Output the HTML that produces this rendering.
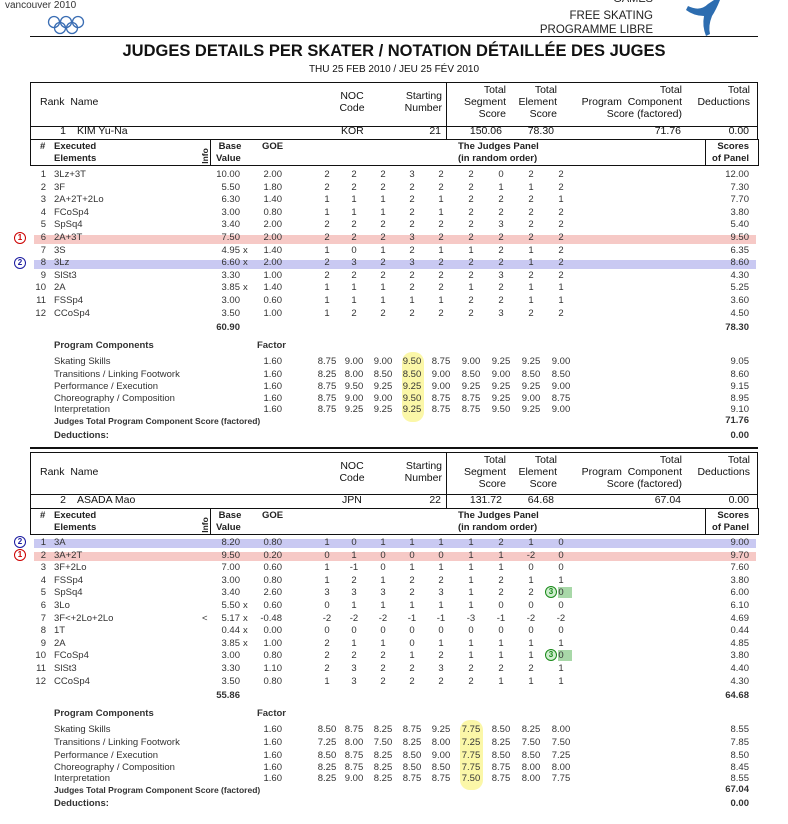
<!DOCTYPE html>
<html><head><meta charset="utf-8"><style>
body{margin:0;background:#fff;width:788px;height:824px;position:relative;overflow:hidden;font-family:"Liberation Sans",Arial,sans-serif;color:#222}
.a{position:absolute;white-space:nowrap}
.row{position:absolute;left:0;width:788px;height:12px;font-size:9.5px;line-height:12px;color:#333}
.row span{position:absolute;top:0;white-space:nowrap}
.n{left:26px;width:20px;text-align:right}
.e{left:54px}
.b{left:196px;width:44px;text-align:right}
.x{left:243px}
.g{left:246px;width:36px;text-align:right}
.f{left:262px;width:20px;text-align:right}
.j1{left:317px;width:20px;text-align:center}
.j2{left:344px;width:20px;text-align:center}
.j3{left:373px;width:20px;text-align:center}
.j4{left:402px;width:20px;text-align:center}
.j5{left:431px;width:20px;text-align:center}
.j6{left:461px;width:20px;text-align:center}
.j7{left:491px;width:20px;text-align:center}
.j8{left:521px;width:20px;text-align:center}
.j9{left:551px;width:20px;text-align:center}
.s{left:690px;width:59px;text-align:right}
.hl{position:absolute;left:34px;width:722px;height:9px}
.box{position:absolute;border:1px solid #111}
.h{position:absolute;font-size:10.5px;line-height:12px;white-space:nowrap;color:#111}
.hr{text-align:right}
.eh{position:absolute;font-size:9.5px;font-weight:bold;line-height:12px;color:#222;white-space:nowrap}
.circ{position:absolute;width:10px;height:10px;border-radius:50%;border:1.5px solid;font-size:8px;line-height:10px;text-align:center;font-weight:bold}
.yel{position:absolute;background:#fbf7a8;border-radius:10px}
.bold{font-weight:bold}
</style></head><body>

<!-- top header -->
<div class="a" style="left:5px;top:0px;font-size:10px;color:#333">vancouver 2010</div>
<svg class="a" style="left:46px;top:15px" width="42" height="22">
<g fill="none" stroke="#3a6db3" stroke-width="1.3">
<circle cx="8" cy="7" r="5.5"/><circle cx="20" cy="7" r="5.5"/><circle cx="32" cy="7" r="5.5"/>
<circle cx="14" cy="13" r="5.5"/><circle cx="26" cy="13" r="5.5"/></g></svg>
<div class="a" style="right:135px;top:-7px;font-size:11px;color:#222">GAMES</div>
<div class="a" style="right:135px;top:10px;font-size:11.5px;color:#222">FREE SKATING</div>
<div class="a" style="right:135px;top:24px;font-size:11.5px;color:#222">PROGRAMME LIBRE</div>
<svg class="a" style="left:680px;top:0" width="60" height="38"><path d="M8 6 Q20 12 28 4 L34 0 L40 0 Q36 10 32 16 Q28 26 30 34 L26 36 Q22 26 24 16 Q14 16 6 10 Z" fill="#2d6db0"/></svg>
<div class="a" style="left:30px;top:36px;width:728px;height:1px;background:#111"></div>
<div class="a" style="left:0;width:788px;top:42px;text-align:center;font-size:16.5px;font-weight:bold;color:#111">JUDGES DETAILS PER SKATER / NOTATION DÉTAILLÉE DES JUGES</div>
<div class="a" style="left:0;width:788px;top:64px;text-align:center;font-size:10px;color:#111">THU 25 FEB 2010 / JEU 25 FÉV 2010</div>

<!-- SKATER 1 header -->
<div class="box" style="left:30px;top:82px;width:727px;height:43px;border-left:1px solid #111;border-right:none;border-bottom:1px solid #111"></div>
<div class="a" style="left:757px;top:82px;width:1px;height:57px;background:#111"></div>
<div class="a" style="left:30px;top:82px;width:1px;height:57px;background:#111"></div>
<div class="a" style="left:446px;top:82px;width:1px;height:57px;background:#111"></div>
<div class="h" style="left:40px;top:96px">Rank&nbsp; Name</div>
<div class="h" style="left:330px;top:90px;width:44px;text-align:center">NOC<br>Code</div>
<div class="h hr" style="left:390px;top:90px;width:52px">Starting<br>Number</div>
<div class="h hr" style="left:450px;top:84px;width:56px">Total<br>Segment<br>Score</div>
<div class="h hr" style="left:510px;top:84px;width:47px">Total<br>Element<br>Score</div>
<div class="h hr" style="left:560px;top:84px;width:122px">Total<br>Program&nbsp; Component<br>Score (factored)</div>
<div class="h hr" style="left:690px;top:84px;width:60px">Total<br>Deductions</div>
<div class="h" style="left:30px;top:125px;width:36px;text-align:right">1</div>
<div class="h" style="left:77px;top:125px">KIM Yu-Na</div>
<div class="h" style="left:341px;top:125px">KOR</div>
<div class="h hr" style="left:400px;top:125px;width:41px">21</div>
<div class="h hr" style="left:450px;top:125px;width:52px">150.06</div>
<div class="h hr" style="left:510px;top:125px;width:44px">78.30</div>
<div class="h hr" style="left:600px;top:125px;width:81px">71.76</div>
<div class="h hr" style="left:700px;top:125px;width:49px">0.00</div>
<!-- elements header 1 -->
<div class="box" style="left:30px;top:139px;width:727px;height:25px;border-top:1.5px solid #111"></div>
<div class="a" style="left:210px;top:140px;width:1px;height:25px;background:#111"></div>
<div class="a" style="left:705px;top:140px;width:1px;height:25px;background:#111"></div>
<div class="eh" style="left:40px;top:141px">#</div>
<div class="eh" style="left:54px;top:141px">Executed<br>Elements</div>
<div class="eh" style="left:197px;top:150px;transform:rotate(-90deg);font-size:8.5px">Info</div>
<div class="eh" style="left:216px;top:141px">&nbsp;Base<br>Value</div>
<div class="eh" style="left:262px;top:141px">GOE</div>
<div class="eh" style="left:458px;top:141px">The Judges Panel<br>(in random order)</div>
<div class="eh" style="left:710px;top:141px;width:39px;text-align:right">Scores<br>of Panel</div>

<!-- highlights skater 1 -->
<div class="hl" style="top:235px;background:#f6c9c6"></div>
<div class="hl" style="top:260px;background:#c9c9f2"></div>
<div class="circ" style="left:14px;top:232px;border-color:#c00;color:#c00">1</div>
<div class="circ" style="left:14px;top:257px;border-color:#1a1aa0;color:#1a1aa0">2</div>

<div class="row" style="top:169px"><span class="n">1</span><span class="e">3Lz+3T</span><span class="b">10.00</span><span class="g">2.00</span><span class="j1">2</span><span class="j2">2</span><span class="j3">2</span><span class="j4">3</span><span class="j5">2</span><span class="j6">2</span><span class="j7">0</span><span class="j8">2</span><span class="j9">2</span><span class="s">12.00</span></div>
<div class="row" style="top:181.6px"><span class="n">2</span><span class="e">3F</span><span class="b">5.50</span><span class="g">1.80</span><span class="j1">2</span><span class="j2">2</span><span class="j3">2</span><span class="j4">2</span><span class="j5">2</span><span class="j6">2</span><span class="j7">1</span><span class="j8">1</span><span class="j9">2</span><span class="s">7.30</span></div>
<div class="row" style="top:194.2px"><span class="n">3</span><span class="e">2A+2T+2Lo</span><span class="b">6.30</span><span class="g">1.40</span><span class="j1">1</span><span class="j2">1</span><span class="j3">1</span><span class="j4">2</span><span class="j5">1</span><span class="j6">2</span><span class="j7">2</span><span class="j8">2</span><span class="j9">1</span><span class="s">7.70</span></div>
<div class="row" style="top:206.8px"><span class="n">4</span><span class="e">FCoSp4</span><span class="b">3.00</span><span class="g">0.80</span><span class="j1">1</span><span class="j2">1</span><span class="j3">1</span><span class="j4">2</span><span class="j5">1</span><span class="j6">2</span><span class="j7">2</span><span class="j8">2</span><span class="j9">2</span><span class="s">3.80</span></div>
<div class="row" style="top:219.4px"><span class="n">5</span><span class="e">SpSq4</span><span class="b">3.40</span><span class="g">2.00</span><span class="j1">2</span><span class="j2">2</span><span class="j3">2</span><span class="j4">2</span><span class="j5">2</span><span class="j6">2</span><span class="j7">3</span><span class="j8">2</span><span class="j9">2</span><span class="s">5.40</span></div>
<div class="row" style="top:232px"><span class="n">6</span><span class="e">2A+3T</span><span class="b">7.50</span><span class="g">2.00</span><span class="j1">2</span><span class="j2">2</span><span class="j3">2</span><span class="j4">3</span><span class="j5">2</span><span class="j6">2</span><span class="j7">2</span><span class="j8">2</span><span class="j9">2</span><span class="s">9.50</span></div>
<div class="row" style="top:244.6px"><span class="n">7</span><span class="e">3S</span><span class="b">4.95</span><span class="x">x</span><span class="g">1.40</span><span class="j1">1</span><span class="j2">0</span><span class="j3">1</span><span class="j4">2</span><span class="j5">1</span><span class="j6">1</span><span class="j7">2</span><span class="j8">1</span><span class="j9">2</span><span class="s">6.35</span></div>
<div class="row" style="top:257.2px"><span class="n">8</span><span class="e">3Lz</span><span class="b">6.60</span><span class="x">x</span><span class="g">2.00</span><span class="j1">2</span><span class="j2">3</span><span class="j3">2</span><span class="j4">3</span><span class="j5">2</span><span class="j6">2</span><span class="j7">2</span><span class="j8">1</span><span class="j9">2</span><span class="s">8.60</span></div>
<div class="row" style="top:269.8px"><span class="n">9</span><span class="e">SlSt3</span><span class="b">3.30</span><span class="g">1.00</span><span class="j1">2</span><span class="j2">2</span><span class="j3">2</span><span class="j4">2</span><span class="j5">2</span><span class="j6">2</span><span class="j7">3</span><span class="j8">2</span><span class="j9">2</span><span class="s">4.30</span></div>
<div class="row" style="top:282.4px"><span class="n">10</span><span class="e">2A</span><span class="b">3.85</span><span class="x">x</span><span class="g">1.40</span><span class="j1">1</span><span class="j2">1</span><span class="j3">1</span><span class="j4">2</span><span class="j5">2</span><span class="j6">1</span><span class="j7">2</span><span class="j8">1</span><span class="j9">1</span><span class="s">5.25</span></div>
<div class="row" style="top:295px"><span class="n">11</span><span class="e">FSSp4</span><span class="b">3.00</span><span class="g">0.60</span><span class="j1">1</span><span class="j2">1</span><span class="j3">1</span><span class="j4">1</span><span class="j5">1</span><span class="j6">2</span><span class="j7">2</span><span class="j8">1</span><span class="j9">1</span><span class="s">3.60</span></div>
<div class="row" style="top:307.6px"><span class="n">12</span><span class="e">CCoSp4</span><span class="b">3.50</span><span class="g">1.00</span><span class="j1">1</span><span class="j2">2</span><span class="j3">2</span><span class="j4">2</span><span class="j5">2</span><span class="j6">2</span><span class="j7">3</span><span class="j8">2</span><span class="j9">2</span><span class="s">4.50</span></div>
<div class="row bold" style="top:322px"><span class="b">60.90</span><span class="s">78.30</span></div>

<!-- PCS 1 -->
<div class="yel" style="left:402px;top:352px;width:22px;height:70px"></div>
<div class="row bold" style="top:340px"><span class="e">Program Components</span><span class="f" style="left:252px;width:34px">Factor</span></div>
<div class="row" style="top:356px"><span class="e">Skating Skills</span><span class="f">1.60</span><span class="j1">8.75</span><span class="j2">9.00</span><span class="j3">9.00</span><span class="j4">9.50</span><span class="j5">8.75</span><span class="j6">9.00</span><span class="j7">9.25</span><span class="j8">9.25</span><span class="j9">9.00</span><span class="s">9.05</span></div>
<div class="row" style="top:368.5px"><span class="e">Transitions / Linking Footwork</span><span class="f">1.60</span><span class="j1">8.25</span><span class="j2">8.00</span><span class="j3">8.50</span><span class="j4">8.50</span><span class="j5">9.00</span><span class="j6">8.50</span><span class="j7">9.00</span><span class="j8">8.50</span><span class="j9">8.50</span><span class="s">8.60</span></div>
<div class="row" style="top:381px"><span class="e">Performance / Execution</span><span class="f">1.60</span><span class="j1">8.75</span><span class="j2">9.50</span><span class="j3">9.25</span><span class="j4">9.25</span><span class="j5">9.00</span><span class="j6">9.25</span><span class="j7">9.25</span><span class="j8">9.25</span><span class="j9">9.00</span><span class="s">9.15</span></div>
<div class="row" style="top:393px"><span class="e">Choreography / Composition</span><span class="f">1.60</span><span class="j1">8.75</span><span class="j2">9.00</span><span class="j3">9.00</span><span class="j4">9.50</span><span class="j5">8.75</span><span class="j6">8.75</span><span class="j7">9.25</span><span class="j8">9.00</span><span class="j9">8.75</span><span class="s">8.95</span></div>
<div class="row" style="top:404px"><span class="e">Interpretation</span><span class="f">1.60</span><span class="j1">8.75</span><span class="j2">9.25</span><span class="j3">9.25</span><span class="j4">9.25</span><span class="j5">8.75</span><span class="j6">8.75</span><span class="j7">9.50</span><span class="j8">9.25</span><span class="j9">9.00</span><span class="s">9.10</span></div>
<div class="row bold" style="top:415px;font-size:8.5px"><span class="e">Judges Total Program Component Score (factored)</span><span class="s" style="font-size:9.5px">71.76</span></div>
<div class="row bold" style="top:430px"><span class="e">Deductions:</span><span class="s">0.00</span></div>
<div class="a" style="left:30px;top:447px;width:728px;height:1.5px;background:#111"></div>

<!-- SKATER 2 header -->
<div class="a" style="left:30px;top:452px;width:728px;height:1px;background:#111"></div>
<div class="a" style="left:30px;top:494px;width:728px;height:1px;background:#111"></div>
<div class="a" style="left:30px;top:452px;width:1px;height:56px;background:#111"></div>
<div class="a" style="left:757px;top:452px;width:1px;height:56px;background:#111"></div>
<div class="a" style="left:446px;top:452px;width:1px;height:56px;background:#111"></div>
<div class="h" style="left:40px;top:466px">Rank&nbsp; Name</div>
<div class="h" style="left:330px;top:460px;width:44px;text-align:center">NOC<br>Code</div>
<div class="h hr" style="left:390px;top:460px;width:52px">Starting<br>Number</div>
<div class="h hr" style="left:450px;top:454px;width:56px">Total<br>Segment<br>Score</div>
<div class="h hr" style="left:510px;top:454px;width:47px">Total<br>Element<br>Score</div>
<div class="h hr" style="left:560px;top:454px;width:122px">Total<br>Program&nbsp; Component<br>Score (factored)</div>
<div class="h hr" style="left:690px;top:454px;width:60px">Total<br>Deductions</div>
<div class="h" style="left:30px;top:494px;width:36px;text-align:right">2</div>
<div class="h" style="left:77px;top:494px">ASADA Mao</div>
<div class="h" style="left:342px;top:494px">JPN</div>
<div class="h hr" style="left:400px;top:494px;width:41px">22</div>
<div class="h hr" style="left:450px;top:494px;width:52px">131.72</div>
<div class="h hr" style="left:510px;top:494px;width:44px">64.68</div>
<div class="h hr" style="left:600px;top:494px;width:81px">67.04</div>
<div class="h hr" style="left:700px;top:494px;width:49px">0.00</div>
<div class="box" style="left:30px;top:508px;width:727px;height:25px;border-top:1.5px solid #111"></div>
<div class="a" style="left:210px;top:509px;width:1px;height:25px;background:#111"></div>
<div class="a" style="left:705px;top:509px;width:1px;height:25px;background:#111"></div>
<div class="eh" style="left:40px;top:510px">#</div>
<div class="eh" style="left:54px;top:510px">Executed<br>Elements</div>
<div class="eh" style="left:197px;top:519px;transform:rotate(-90deg);font-size:8.5px">Info</div>
<div class="eh" style="left:216px;top:510px">&nbsp;Base<br>Value</div>
<div class="eh" style="left:262px;top:510px">GOE</div>
<div class="eh" style="left:458px;top:510px">The Judges Panel<br>(in random order)</div>
<div class="eh" style="left:710px;top:510px;width:39px;text-align:right">Scores<br>of Panel</div>

<div class="hl" style="top:539px;background:#c9c9f2"></div>
<div class="hl" style="top:552px;background:#f6c9c6"></div>
<div class="circ" style="left:14px;top:536px;border-color:#1a1aa0;color:#1a1aa0">2</div>
<div class="circ" style="left:14px;top:549px;border-color:#c00;color:#c00">1</div>
<div class="a" style="left:558px;top:587px;width:14px;height:11px;background:#a8d8a8"></div>
<div class="a" style="left:558px;top:650px;width:14px;height:11px;background:#a8d8a8"></div>
<div class="circ" style="left:545px;top:586px;border-color:#1a8a1a;color:#1a8a1a;background:#cfeecf">3</div>
<div class="circ" style="left:545px;top:649px;border-color:#1a8a1a;color:#1a8a1a;background:#cfeecf">3</div>

<div class="row" style="top:537px"><span class="n">1</span><span class="e">3A</span><span class="b">8.20</span><span class="g">0.80</span><span class="j1">1</span><span class="j2">0</span><span class="j3">1</span><span class="j4">1</span><span class="j5">1</span><span class="j6">1</span><span class="j7">2</span><span class="j8">1</span><span class="j9">0</span><span class="s">9.00</span></div>
<div class="row" style="top:549.6px"><span class="n">2</span><span class="e">3A+2T</span><span class="b">9.50</span><span class="g">0.20</span><span class="j1">0</span><span class="j2">1</span><span class="j3">0</span><span class="j4">0</span><span class="j5">0</span><span class="j6">1</span><span class="j7">1</span><span class="j8">-2</span><span class="j9">0</span><span class="s">9.70</span></div>
<div class="row" style="top:562.2px"><span class="n">3</span><span class="e">3F+2Lo</span><span class="b">7.00</span><span class="g">0.60</span><span class="j1">1</span><span class="j2">-1</span><span class="j3">0</span><span class="j4">1</span><span class="j5">1</span><span class="j6">1</span><span class="j7">1</span><span class="j8">0</span><span class="j9">0</span><span class="s">7.60</span></div>
<div class="row" style="top:574.8px"><span class="n">4</span><span class="e">FSSp4</span><span class="b">3.00</span><span class="g">0.80</span><span class="j1">1</span><span class="j2">2</span><span class="j3">1</span><span class="j4">2</span><span class="j5">2</span><span class="j6">1</span><span class="j7">2</span><span class="j8">1</span><span class="j9">1</span><span class="s">3.80</span></div>
<div class="row" style="top:587.4px"><span class="n">5</span><span class="e">SpSq4</span><span class="b">3.40</span><span class="g">2.60</span><span class="j1">3</span><span class="j2">3</span><span class="j3">3</span><span class="j4">2</span><span class="j5">3</span><span class="j6">1</span><span class="j7">2</span><span class="j8">2</span><span class="j9">0</span><span class="s">6.00</span></div>
<div class="row" style="top:600px"><span class="n">6</span><span class="e">3Lo</span><span class="b">5.50</span><span class="x">x</span><span class="g">0.60</span><span class="j1">0</span><span class="j2">1</span><span class="j3">1</span><span class="j4">1</span><span class="j5">1</span><span class="j6">1</span><span class="j7">0</span><span class="j8">0</span><span class="j9">0</span><span class="s">6.10</span></div>
<div class="row" style="top:612.6px"><span class="n">7</span><span class="e">3F&lt;+2Lo+2Lo</span><span style="left:202px">&lt;</span><span class="b">5.17</span><span class="x">x</span><span class="g">-0.48</span><span class="j1">-2</span><span class="j2">-2</span><span class="j3">-2</span><span class="j4">-1</span><span class="j5">-1</span><span class="j6">-3</span><span class="j7">-1</span><span class="j8">-2</span><span class="j9">-2</span><span class="s">4.69</span></div>
<div class="row" style="top:625.2px"><span class="n">8</span><span class="e">1T</span><span class="b">0.44</span><span class="x">x</span><span class="g">0.00</span><span class="j1">0</span><span class="j2">0</span><span class="j3">0</span><span class="j4">0</span><span class="j5">0</span><span class="j6">0</span><span class="j7">0</span><span class="j8">0</span><span class="j9">0</span><span class="s">0.44</span></div>
<div class="row" style="top:637.8px"><span class="n">9</span><span class="e">2A</span><span class="b">3.85</span><span class="x">x</span><span class="g">1.00</span><span class="j1">2</span><span class="j2">1</span><span class="j3">1</span><span class="j4">0</span><span class="j5">1</span><span class="j6">1</span><span class="j7">1</span><span class="j8">1</span><span class="j9">1</span><span class="s">4.85</span></div>
<div class="row" style="top:650.4px"><span class="n">10</span><span class="e">FCoSp4</span><span class="b">3.00</span><span class="g">0.80</span><span class="j1">2</span><span class="j2">2</span><span class="j3">2</span><span class="j4">1</span><span class="j5">2</span><span class="j6">1</span><span class="j7">1</span><span class="j8">1</span><span class="j9">0</span><span class="s">3.80</span></div>
<div class="row" style="top:663px"><span class="n">11</span><span class="e">SlSt3</span><span class="b">3.30</span><span class="g">1.10</span><span class="j1">2</span><span class="j2">3</span><span class="j3">2</span><span class="j4">2</span><span class="j5">3</span><span class="j6">2</span><span class="j7">2</span><span class="j8">2</span><span class="j9">1</span><span class="s">4.40</span></div>
<div class="row" style="top:675.6px"><span class="n">12</span><span class="e">CCoSp4</span><span class="b">3.50</span><span class="g">0.80</span><span class="j1">1</span><span class="j2">3</span><span class="j3">2</span><span class="j4">2</span><span class="j5">2</span><span class="j6">2</span><span class="j7">1</span><span class="j8">1</span><span class="j9">1</span><span class="s">4.30</span></div>
<div class="row bold" style="top:690px"><span class="b">55.86</span><span class="s">64.68</span></div>

<!-- PCS 2 -->
<div class="yel" style="left:460px;top:720px;width:23px;height:70px"></div>
<div class="row bold" style="top:708px"><span class="e">Program Components</span><span class="f" style="left:252px;width:34px">Factor</span></div>
<div class="row" style="top:724px"><span class="e">Skating Skills</span><span class="f">1.60</span><span class="j1">8.50</span><span class="j2">8.75</span><span class="j3">8.25</span><span class="j4">8.75</span><span class="j5">9.25</span><span class="j6">7.75</span><span class="j7">8.50</span><span class="j8">8.25</span><span class="j9">8.00</span><span class="s">8.55</span></div>
<div class="row" style="top:737px"><span class="e">Transitions / Linking Footwork</span><span class="f">1.60</span><span class="j1">7.25</span><span class="j2">8.00</span><span class="j3">7.50</span><span class="j4">8.25</span><span class="j5">8.00</span><span class="j6">7.25</span><span class="j7">8.25</span><span class="j8">7.50</span><span class="j9">7.50</span><span class="s">7.85</span></div>
<div class="row" style="top:750px"><span class="e">Performance / Execution</span><span class="f">1.60</span><span class="j1">8.50</span><span class="j2">8.75</span><span class="j3">8.25</span><span class="j4">8.50</span><span class="j5">9.00</span><span class="j6">7.75</span><span class="j7">8.50</span><span class="j8">8.50</span><span class="j9">7.25</span><span class="s">8.50</span></div>
<div class="row" style="top:762px"><span class="e">Choreography / Composition</span><span class="f">1.60</span><span class="j1">8.25</span><span class="j2">8.75</span><span class="j3">8.25</span><span class="j4">8.50</span><span class="j5">8.50</span><span class="j6">7.75</span><span class="j7">8.75</span><span class="j8">8.00</span><span class="j9">8.00</span><span class="s">8.45</span></div>
<div class="row" style="top:773px"><span class="e">Interpretation</span><span class="f">1.60</span><span class="j1">8.25</span><span class="j2">9.00</span><span class="j3">8.25</span><span class="j4">8.75</span><span class="j5">8.75</span><span class="j6">7.50</span><span class="j7">8.75</span><span class="j8">8.00</span><span class="j9">7.75</span><span class="s">8.55</span></div>
<div class="row bold" style="top:784px;font-size:8.5px"><span class="e">Judges Total Program Component Score (factored)</span><span class="s" style="font-size:9.5px">67.04</span></div>
<div class="row bold" style="top:798px"><span class="e">Deductions:</span><span class="s">0.00</span></div>
</body></html>
